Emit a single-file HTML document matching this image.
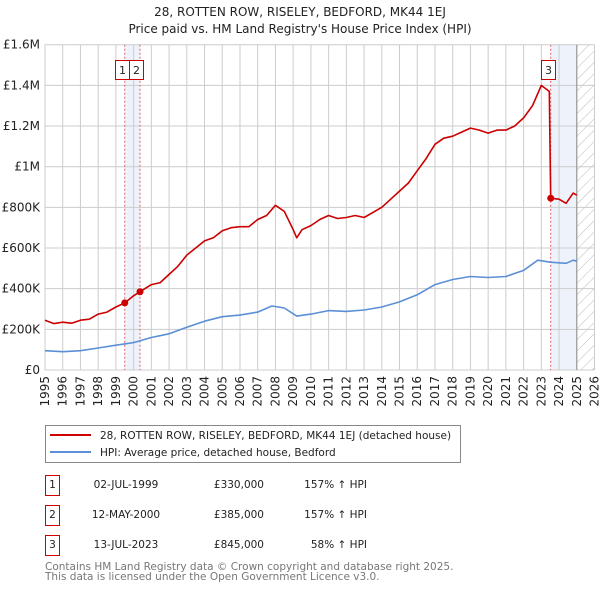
<!DOCTYPE html>
<html><head><meta charset="utf-8"><style>
body{margin:0;background:#fff;width:600px;height:590px;overflow:hidden;font-family:"DejaVu Sans","Liberation Sans",sans-serif;}
svg text{font-family:"DejaVu Sans","Liberation Sans",sans-serif;}
</style></head><body>
<svg id="c" width="600" height="590" xmlns="http://www.w3.org/2000/svg"></svg>
<script>
const years=[1995,1996,1997,1998,1999,2000,2001,2002,2003,2004,2005,2006,2007,2008,2009,2010,2011,2012,2013,2014,2015,2016,2017,2018,2019,2020,2021,2022,2023,2024,2025,2026];
const yTicks=[0,200000,400000,600000,800000,1000000,1200000,1400000,1600000];
const yTickLabels=["£0","£200K","£400K","£600K","£800K","£1M","£1.2M","£1.4M","£1.6M"];
const redT=[1995,1995.5,1996,1996.5,1997,1997.5,1998,1998.5,1999,1999.5,2000,2000.36,2001,2001.5,2002,2002.5,2003,2003.5,2004,2004.5,2005,2005.5,2006,2006.5,2007,2007.5,2008,2008.5,2009,2009.2,2009.5,2010,2010.5,2011,2011.5,2012,2012.5,2013,2013.5,2014,2014.5,2015,2015.5,2016,2016.5,2017,2017.5,2018,2018.5,2019,2019.5,2020,2020.5,2021,2021.5,2022,2022.5,2023,2023.3,2023.45,2023.53,2024,2024.4,2024.8,2025];
const redV=[245,228,235,230,245,250,275,285,310,330,365,385,420,430,470,510,565,600,635,650,685,700,705,705,740,760,810,780,690,650,690,710,740,760,745,750,760,750,775,800,840,880,920,980,1040,1110,1140,1150,1170,1190,1180,1165,1180,1180,1200,1240,1300,1400,1380,1370,845,840,820,870,860];
const blueT=[1995,1996,1997,1998,1999,2000,2001,2002,2003,2004,2005,2006,2007,2007.8,2008.5,2009.2,2010,2011,2012,2013,2014,2015,2016,2017,2018,2019,2020,2021,2022,2022.8,2023.5,2024.4,2024.8,2025];
const blueV=[95,90,95,108,122,135,160,178,210,240,262,270,285,315,305,265,275,292,288,295,310,335,370,420,445,460,455,460,490,540,530,525,540,535];
const saleT=[1999.5,2000.36,2023.53];
const saleV=[330,385,845];
const saleLabels=["1","2","3"];

const X0=45,X1=594.5,Y0=370,Y1=44.7;
const x=t=>X0+(t-1995)*(X1-X0)/31;
const y=v=>Y0-v*(Y0-Y1)/1600000;
const svg=document.getElementById('c');
const NS="http://www.w3.org/2000/svg";
function mk(tag,attrs,parent){const e=document.createElementNS(NS,tag);for(const k in attrs)e.setAttribute(k,attrs[k]);(parent||svg).appendChild(e);return e;}

const defs=mk('defs',{});
const pat=mk('pattern',{id:'hatch',width:8,height:8,patternUnits:'userSpaceOnUse',patternTransform:'rotate(45)'},defs);
mk('line',{x1:0,y1:0,x2:0,y2:8,stroke:'#bbb','stroke-width':1},pat);

let t=mk('text',{x:300,y:16,'text-anchor':'middle','font-size':12,fill:'#222'});t.textContent="28, ROTTEN ROW, RISELEY, BEDFORD, MK44 1EJ";

t=mk('text',{x:300,y:33,'text-anchor':'middle','font-size':12,fill:'#222'});t.textContent="Price paid vs. HM Land Registry's House Price Index (HPI)";


let r=mk('rect',{x:x(saleT[0]),y:Y1,width:x(saleT[1])-x(saleT[0]),height:Y0-Y1,fill:'#eef3fb'});

r=mk('rect',{x:x(saleT[2]),y:Y1,width:x(2025)-x(saleT[2]),height:Y0-Y1,fill:'#eef3fb'});

r=mk('rect',{x:x(2025),y:Y1,width:X1-x(2025),height:Y0-Y1,fill:'url(#hatch)'});


years.forEach(yr=>{const l=mk('line',{x1:x(yr),x2:x(yr),y1:Y1,y2:Y0,stroke:'#cccccc','stroke-width':1});

const tx=mk('text',{transform:`translate(${x(yr)+4},${Y0+6}) rotate(-90)`,'text-anchor':'end','font-size':12,fill:'#222'});tx.textContent=yr;
});
yTicks.forEach((v,i)=>{const l=mk('line',{x1:X0,x2:X1,y1:y(v),y2:y(v),stroke:'#cccccc','stroke-width':1});

const tx=mk('text',{x:40,y:y(v)+4,'text-anchor':'end','font-size':12,fill:'#222'});tx.textContent=yTickLabels[i];
});
let l=mk('line',{x1:x(2025),x2:x(2025),y1:Y1,y2:Y0,stroke:'#999','stroke-width':1.2});


saleT.forEach(s=>{const v=mk('line',{x1:x(s),x2:x(s),y1:Y1,y2:Y0,stroke:'#e06070','stroke-width':1,'stroke-dasharray':'2,2'});
});

function path(T,V,color,name){const d=T.map((tt,i)=>(i?'L':'M')+x(tt).toFixed(1)+','+y(V[i]*1000).toFixed(1)).join('');
const p=mk('path',{d:d,fill:'none',stroke:color,'stroke-width':1.6,'stroke-linejoin':'round'});
}
path(blueT,blueV,'#5b8fd6','hpi-line');
path(redT,redV,'#cc0000','price-line');

const boxX=[115.5,129.5,541.5];
saleT.forEach((s,i)=>{const c=mk('circle',{cx:x(s),cy:y(saleV[i]*1000),r:3.5,fill:'#cc0000'});

const bx=boxX[i];
const b=mk('rect',{x:bx,y:60.5,width:14,height:19,fill:'#fff',stroke:'#cc0000','stroke-width':1});

const tx=mk('text',{x:bx+7,y:74,'text-anchor':'middle','font-size':11,fill:'#222'});tx.textContent=saleLabels[i];
});

let g=mk('rect',{x:45.5,y:425.5,width:415,height:37,fill:'#fff',stroke:'#888','stroke-width':1});

l=mk('line',{x1:50,x2:91,y1:435,y2:435,stroke:'#cc0000','stroke-width':2});
t=mk('text',{x:100,y:439,'font-size':10.5,fill:'#222'});t.textContent="28, ROTTEN ROW, RISELEY, BEDFORD, MK44 1EJ (detached house)";

l=mk('line',{x1:50,x2:91,y1:452,y2:452,stroke:'#5b8fd6','stroke-width':2});
t=mk('text',{x:100,y:456,'font-size':10.5,fill:'#222'});t.textContent="HPI: Average price, detached house, Bedford";


const rows=[["1","02-JUL-1999","£330,000","157% ↑ HPI"],["2","12-MAY-2000","£385,000","157% ↑ HPI"],["3","13-JUL-2023","£845,000"," 58% ↑ HPI"]];
const ry=[485,515,545];
rows.forEach((rw,i)=>{const b=mk('rect',{x:45.5,y:ry[i]-9.5,width:14,height:20,fill:'#fff',stroke:'#cc0000','stroke-width':1});

let tx=mk('text',{x:52.5,y:ry[i]+3,'text-anchor':'middle','font-size':10.5,fill:'#222'});tx.textContent=rw[0];

tx=mk('text',{x:126,y:ry[i]+3,'text-anchor':'middle','font-size':10.5,fill:'#222'});tx.textContent=rw[1];

tx=mk('text',{x:264,y:ry[i]+3,'text-anchor':'end','font-size':10.5,fill:'#222'});tx.textContent=rw[2];

tx=mk('text',{x:367,y:ry[i]+3,'text-anchor':'end','font-size':10.5,fill:'#222'});tx.textContent=rw[3];
});

t=mk('text',{x:45,y:570,'font-size':10.5,fill:'#777'});t.textContent="Contains HM Land Registry data © Crown copyright and database right 2025.";

t=mk('text',{x:45,y:580,'font-size':10.5,fill:'#777'});t.textContent="This data is licensed under the Open Government Licence v3.0.";

</script>
</body></html>
